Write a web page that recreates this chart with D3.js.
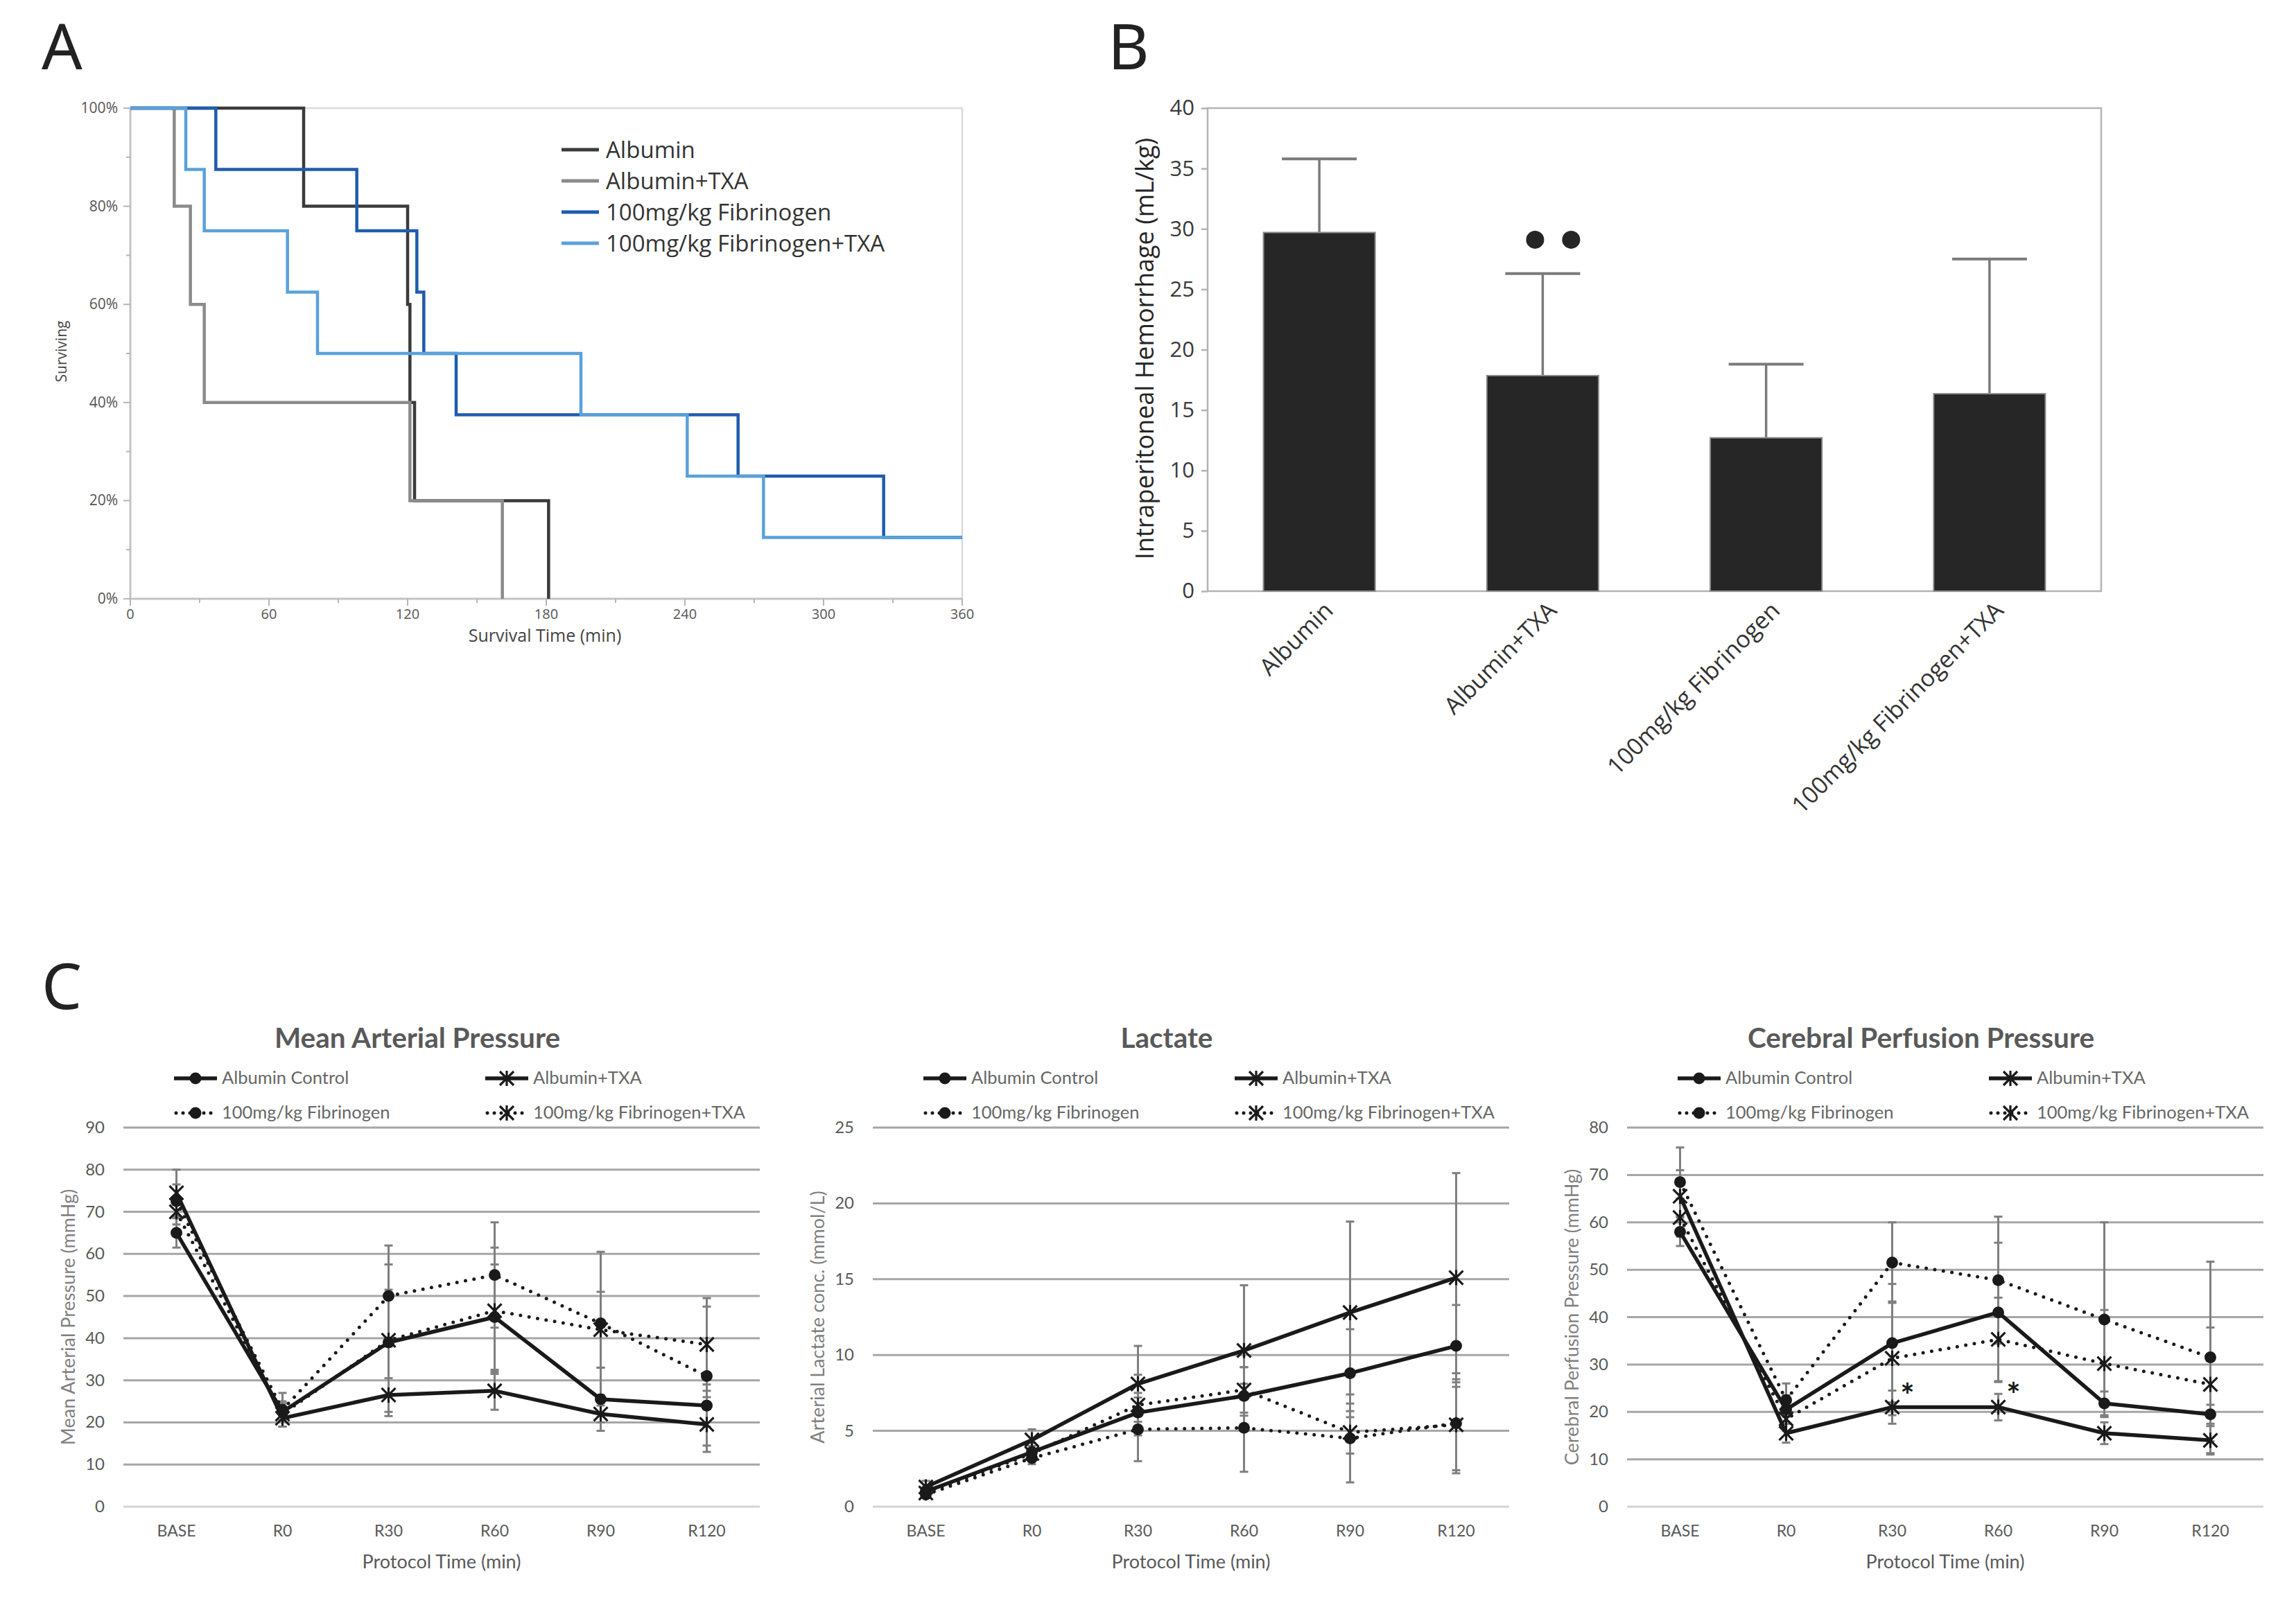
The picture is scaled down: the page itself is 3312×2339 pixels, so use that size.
<!DOCTYPE html>
<html>
<head>
<meta charset="utf-8">
<script src="https://cdn.jsdelivr.net/npm/d3@7"></script>
<style>
  body { margin: 0; background: #fff; }
  svg { display: block; }
</style>
</head>
<body>
<div id="fig"></div>
<script>
// ---------- data ----------
// panel A: Kaplan-Meier steps [minutes, fraction surviving]
var survGroups = ["Albumin", "Albumin+TXA", "100mg/kg Fibrinogen", "100mg/kg Fibrinogen+TXA"];
var survColors = ["#3b3b3b", "#8b8b8b", "#1f5cad", "#5aa1dc"];
var survAlbumin = [[0, 1], [75, 0.8], [120, 0.6], [121, 0.4], [123, 0.2], [181, 0]];
var survAlbuminTxa = [[0, 1], [19, 0.8], [26, 0.6], [32, 0.4], [121, 0.2], [161, 0]];
var survFib = [[0, 1], [37, 0.875], [98, 0.75], [124, 0.625], [127, 0.5], [141, 0.375], [263, 0.25], [326, 0.125], [360, 0.125]];
var survFibTxa = [[0, 1], [24, 0.875], [32, 0.75], [68, 0.625], [81, 0.5], [195, 0.375], [241, 0.25], [274, 0.125], [360, 0.125]];
var survXTicks = [0, 60, 120, 180, 240, 300, 360];
var survYTicks = [0, 0.2, 0.4, 0.6, 0.8, 1];

// panel B: hemorrhage volume, mean and upper SD
var bleedGroups = ["Albumin", "Albumin+TXA", "100mg/kg Fibrinogen", "100mg/kg Fibrinogen+TXA"];
var bleedMean = [29.7, 17.85, 12.7, 16.35];
var bleedSD = [6.1, 8.45, 6.1, 11.15];
var bleedTicks = [0, 5, 10, 15, 20, 25, 30, 35, 40];

// panel C: time course
var timePoints = ["BASE", "R0", "R30", "R60", "R90", "R120"];
var seriesNames = ["Albumin Control", "Albumin+TXA", "100mg/kg Fibrinogen", "100mg/kg Fibrinogen+TXA"];

var mapAlb = [65, 22.5, 39, 45, 25.5, 24];
var mapAlbSD = [3.5, 2, 12.5, 12.5, 7.5, 5];
var mapTxa = [74.5, 21, 26.5, 27.5, 22, 19.5];
var mapTxaSD = [5.5, 2, 4, 4.5, 2, 6.5];
var mapFib = [72.5, 23, 50, 55, 43.5, 31];
var mapFibSD = [4, 4, 12, 12.5, 17, 16.5];
var mapFibTxa = [70, 22, 39.5, 46.5, 42, 38.5];
var mapFibTxaSD = [3, 3, 18, 15, 9, 11];

var lacAlb = [1.0, 3.6, 6.2, 7.3, 8.8, 10.6];
var lacAlbSD = [0.3, 0.6, 1.3, 1.9, 2.9, 2.7];
var lacTxa = [1.3, 4.4, 8.1, 10.3, 12.8, 15.1];
var lacTxaSD = [0.4, 0.7, 2.5, 4.3, 6.0, 6.9];
var lacFib = [0.8, 3.2, 5.1, 5.2, 4.5, 5.5];
var lacFibSD = [0.2, 0.4, 2.1, 2.9, 2.9, 3.3];
var lacFibTxa = [0.9, 3.5, 6.7, 7.7, 4.9, 5.4];
var lacFibTxaSD = [0.3, 0.5, 2.0, 1.5, 1.4, 3.0];

var cppAlb = [58, 20.5, 34.5, 41, 21.8, 19.5];
var cppAlbSD = [3, 3, 12.5, 14.7, 2.5, 2];
var cppTxa = [65.5, 15.5, 21, 21, 15.5, 14];
var cppTxaSD = [5.5, 2, 3.5, 2.8, 2.3, 3];
var cppFib = [68.5, 22.5, 51.5, 47.8, 39.5, 31.5];
var cppFibSD = [7.3, 3.5, 8.5, 13.4, 20.5, 20.2];
var cppFibTxa = [61, 18.5, 31.3, 35.3, 30.2, 25.8];
var cppFibTxaSD = [4, 2.5, 12, 8.8, 11.3, 12];
var cppStars = [["R30", 24.4], ["R60", 24.6]];

// ---------- setup ----------
var W = 3312, H = 2339;
var svg = d3.select("#fig").append("svg").attr("width", W).attr("height", H);
svg.append("rect").attr("width", W).attr("height", H).attr("fill", "#fff");

var panelFont = "'Open Sans', 'Noto Sans', sans-serif";
var excelFont = "Lato, 'Open Sans', sans-serif";

function panelLetter(txt, x, y) {
    svg.append("text").attr("x", x).attr("y", y)
        .attr("font-family", "'Noto Sans', sans-serif").attr("font-size", 92)
        .attr("fill", "#222").text(txt);
}

// ---------- panel A ----------
function drawSurvival() {
    var left = 188, right = 1388, top = 156, bottom = 864;
    var x = d3.scaleLinear().domain([0, 360]).range([left, right]);
    var y = d3.scaleLinear().domain([0, 1]).range([bottom, top]);
    var g = svg.append("g");

    // frame (top/right faint, left/bottom darker)
    g.append("path").attr("d", "M" + left + "," + top + "H" + right + "V" + bottom)
        .attr("fill", "none").attr("stroke", "#dadada").attr("stroke-width", 2.5);
    g.append("path").attr("d", "M" + left + "," + top + "V" + bottom + "H" + right)
        .attr("fill", "none").attr("stroke", "#c4c4c4").attr("stroke-width", 3);

    // minor + major ticks
    d3.range(0, 361, 30).forEach(function (t) {
        var major = t % 60 == 0;
        g.append("line").attr("x1", x(t)).attr("x2", x(t)).attr("y1", bottom).attr("y2", bottom + (major ? 10 : 6))
            .attr("stroke", "#b5b5b5").attr("stroke-width", 2);
    });
    d3.range(0, 11).forEach(function (i) {
        var major = i % 2 == 0;
        g.append("line").attr("x1", left).attr("x2", left - (major ? 10 : 6)).attr("y1", y(i / 10)).attr("y2", y(i / 10))
            .attr("stroke", "#b5b5b5").attr("stroke-width", 2);
    });

    g.selectAll(".xt").data(survXTicks).enter().append("text")
        .attr("x", function (d) { return x(d); }).attr("y", 893)
        .attr("text-anchor", "middle").attr("font-family", panelFont).attr("font-size", 20)
        .attr("fill", "#555").text(function (d) { return d; });
    g.selectAll(".yt").data(survYTicks).enter().append("text")
        .attr("x", 170).attr("y", function (d) { return y(d) + 7; })
        .attr("text-anchor", "end").attr("font-family", panelFont).attr("font-size", 21)
        .attr("fill", "#555").text(function (d) { return Math.round(d * 100) + "%"; });

    g.append("text").attr("x", 786).attr("y", 926).attr("text-anchor", "middle")
        .attr("font-family", panelFont).attr("font-size", 25).attr("fill", "#444")
        .text("Survival Time (min)");
    g.append("text").attr("transform", "translate(96,507) rotate(-90)").attr("text-anchor", "middle")
        .attr("font-family", panelFont).attr("font-size", 21).attr("fill", "#444")
        .text("Surviving");

    var line = d3.line().x(function (d) { return x(d[0]); }).y(function (d) { return y(d[1]); })
        .curve(d3.curveStepAfter);
    [survAlbumin, survAlbuminTxa, survFib, survFibTxa].forEach(function (s, i) {
        g.append("path").attr("d", line(s)).attr("fill", "none")
            .attr("stroke", survColors[i]).attr("stroke-width", 4.5);
    });

    // legend
    survGroups.forEach(function (name, i) {
        var yy = 216 + i * 45;
        g.append("line").attr("x1", 810).attr("x2", 864).attr("y1", yy).attr("y2", yy)
            .attr("stroke", survColors[i]).attr("stroke-width", 5);
        g.append("text").attr("x", 874).attr("y", yy + 12)
            .attr("font-family", panelFont).attr("font-size", 33).attr("fill", "#333").text(name);
    });
}

// ---------- panel B ----------
function drawBars() {
    var left = 1742, right = 3031, top = 156, bottom = 853;
    var x = d3.scaleBand().domain(bleedGroups).range([left, right]).paddingInner(0.5).paddingOuter(0.25);
    var y = d3.scaleLinear().domain([0, 40]).range([bottom, top]);
    var g = svg.append("g");

    g.append("rect").attr("x", left).attr("y", top).attr("width", right - left).attr("height", bottom - top)
        .attr("fill", "none").attr("stroke", "#b3b3b3").attr("stroke-width", 2.5);

    var yAxis = d3.axisLeft(y).tickValues(bleedTicks).tickSize(9).tickPadding(10);
    var ya = g.append("g").attr("transform", "translate(" + left + ",0)").call(yAxis);
    ya.select(".domain").remove();
    ya.selectAll("line").attr("stroke", "#b3b3b3").attr("stroke-width", 2.5);
    ya.selectAll("text").attr("font-family", panelFont).attr("font-size", 31).attr("fill", "#3a3a3a");

    // error bars (upper only)
    bleedGroups.forEach(function (k, i) {
        var cx = x(k) + x.bandwidth() / 2;
        var yt = y(bleedMean[i] + bleedSD[i]);
        g.append("line").attr("x1", cx).attr("x2", cx).attr("y1", y(bleedMean[i])).attr("y2", yt)
            .attr("stroke", "#7a7a7a").attr("stroke-width", 3.5);
        g.append("line").attr("x1", cx - 54).attr("x2", cx + 54).attr("y1", yt).attr("y2", yt)
            .attr("stroke", "#7a7a7a").attr("stroke-width", 4);
    });

    g.selectAll(".bar").data(bleedGroups).enter().append("rect")
        .attr("x", function (d) { return x(d); })
        .attr("y", function (d, i) { return y(bleedMean[i]); })
        .attr("width", x.bandwidth())
        .attr("height", function (d, i) { return bottom - y(bleedMean[i]); })
        .attr("fill", "#262626").attr("stroke", "#8c8c8c").attr("stroke-width", 2);

    // significance marks over Albumin+TXA
    var cx1 = x(bleedGroups[1]) + x.bandwidth() / 2;
    [-26, 26].forEach(function (dx) {
        g.append("circle").attr("cx", cx1 + 15 + dx).attr("cy", y(29.1)).attr("r", 13).attr("fill", "#262626");
    });

    bleedGroups.forEach(function (k) {
        var cx = x(k) + x.bandwidth() / 2;
        g.append("text").attr("transform", "translate(" + (cx + 22) + "," + (bottom + 30) + ") rotate(-45)")
            .attr("text-anchor", "end").attr("font-family", panelFont).attr("font-size", 34)
            .attr("fill", "#333").text(k);
    });

    g.append("text").attr("transform", "translate(1664,503) rotate(-90)").attr("text-anchor", "middle")
        .attr("font-family", panelFont).attr("font-size", 36).attr("fill", "#262626")
        .text("Intraperitoneal Hemorrhage (mL/kg)");
}

// ---------- panel C ----------
function starPath(s) {
    return "M" + (-s) + "," + (-s) + "L" + s + "," + s + "M" + (-s) + "," + s + "L" + s + "," + (-s) +
        "M0," + (-s * 1.1) + "L0," + (s * 1.1);
}

function drawMarker(g, kind, cx, cy) {
    if (kind == "dot") {
        g.append("circle").attr("cx", cx).attr("cy", cy).attr("r", 8.5).attr("fill", "#1a1a1a");
    } else {
        g.append("path").attr("transform", "translate(" + cx + "," + cy + ")").attr("d", starPath(10))
            .attr("fill", "none").attr("stroke", "#1a1a1a").attr("stroke-width", 3.2);
    }
}

function drawTimeCourse(opt) {
    var left = opt.left, w = 918, top = 1627, bottom = 2174;
    var x = d3.scalePoint().domain(timePoints).range([left, left + w]).padding(0.5);
    var y = d3.scaleLinear().domain([0, opt.max]).range([bottom, top]);
    var g = svg.append("g");
    var styles = [
        { dash: null, marker: "dot" },
        { dash: null, marker: "star" },
        { dash: "0 12.5", marker: "dot" },
        { dash: "0 12.5", marker: "star" }
    ];

    // title
    g.append("text").attr("x", left + 424).attr("y", 1512).attr("text-anchor", "middle")
        .attr("font-family", excelFont).attr("font-weight", "bold").attr("font-size", 40.5)
        .attr("fill", "#595959").text(opt.title);

    // legend 2x2
    seriesNames.forEach(function (name, i) {
        var lx = left + (i % 2 == 0 ? 73 : 522);
        var ly = (i < 2 ? 1556 : 1606);
        var st = styles[i];
        var ln = g.append("line").attr("x1", lx).attr("x2", lx + 62).attr("y1", ly).attr("y2", ly)
            .attr("stroke", "#1a1a1a").attr("stroke-linecap", st.dash ? "round" : "butt")
            .attr("stroke-width", st.dash ? 5 : 5.5);
        if (st.dash) ln.attr("stroke-dasharray", "0 10").attr("stroke-dashoffset", -3);
        drawMarker(g, st.marker, lx + 31, ly);
        g.append("text").attr("x", lx + 69).attr("y", ly + 8)
            .attr("font-family", excelFont).attr("font-size", 25.5).attr("fill", "#666").text(name);
    });

    // gridlines + y labels
    var ticks = d3.range(0, opt.max + 0.001, opt.step);
    g.selectAll(".grid").data(ticks).enter().append("line")
        .attr("x1", left).attr("x2", left + w)
        .attr("y1", function (d) { return y(d); }).attr("y2", function (d) { return y(d); })
        .attr("stroke", function (d) { return d == 0 ? "#d4d4d4" : "#a6a6a6"; }).attr("stroke-width", 3);
    g.selectAll(".yl").data(ticks).enter().append("text")
        .attr("x", left - 27).attr("y", function (d) { return y(d) + 8; })
        .attr("text-anchor", "end").attr("font-family", excelFont).attr("font-size", 24)
        .attr("fill", "#595959").text(function (d) { return d; });
    g.selectAll(".xl").data(timePoints).enter().append("text")
        .attr("x", function (d) { return x(d); }).attr("y", 2217)
        .attr("text-anchor", "middle").attr("font-family", excelFont).attr("font-size", 23)
        .attr("fill", "#595959").text(function (d) { return d; });
    g.append("text").attr("x", left + w / 2).attr("y", 2263).attr("text-anchor", "middle")
        .attr("font-family", excelFont).attr("font-size", 27).attr("fill", "#595959")
        .text("Protocol Time (min)");
    g.append("text").attr("transform", "translate(" + (left - 70) + "," + ((top + bottom) / 2) + ") rotate(-90)")
        .attr("text-anchor", "middle").attr("font-family", excelFont).attr("font-size", 27)
        .attr("fill", "#7f7f7f").text(opt.ylabel);

    // error bars
    opt.series.forEach(function (s) {
        timePoints.forEach(function (t, j) {
            var cx = x(t), y1 = y(s.v[j] + s.sd[j]), y0 = y(s.v[j] - s.sd[j]);
            g.append("line").attr("x1", cx).attr("x2", cx).attr("y1", y0).attr("y2", y1)
                .attr("stroke", "#7f7f7f").attr("stroke-width", 3);
            [y0, y1].forEach(function (yy) {
                g.append("line").attr("x1", cx - 6).attr("x2", cx + 6).attr("y1", yy).attr("y2", yy)
                    .attr("stroke", "#7f7f7f").attr("stroke-width", 3);
            });
        });
    });

    // lines + markers
    var line = d3.line().x(function (d, j) { return x(timePoints[j]); }).y(function (d) { return y(d); });
    opt.series.forEach(function (s, i) {
        var p = g.append("path").attr("d", line(s.v)).attr("fill", "none").attr("stroke", "#1a1a1a");
        if (styles[i].dash) {
            p.attr("stroke-width", 5).attr("stroke-dasharray", styles[i].dash).attr("stroke-linecap", "round");
        } else {
            p.attr("stroke-width", 5.5).attr("stroke-linejoin", "round");
        }
    });
    opt.series.forEach(function (s, i) {
        s.v.forEach(function (v, j) { drawMarker(g, styles[i].marker, x(timePoints[j]), y(v)); });
    });

    (opt.stars || []).forEach(function (st) {
        g.append("text").attr("x", x(st[0]) + 22).attr("y", y(st[1]) + 24).attr("text-anchor", "middle")
            .attr("font-family", excelFont).attr("font-weight", "bold").attr("font-size", 48)
            .attr("fill", "#1a1a1a").text("*");
    });
}

panelLetter("A", 60, 100);
panelLetter("B", 1598, 100);
panelLetter("C", 60, 1456);
drawSurvival();
drawBars();
drawTimeCourse({
    left: 178, max: 90, step: 10, title: "Mean Arterial Pressure",
    ylabel: "Mean Arterial Pressure (mmHg)",
    series: [{ v: mapAlb, sd: mapAlbSD }, { v: mapTxa, sd: mapTxaSD }, { v: mapFib, sd: mapFibSD }, { v: mapFibTxa, sd: mapFibTxaSD }]
});
drawTimeCourse({
    left: 1259, max: 25, step: 5, title: "Lactate",
    ylabel: "Arterial Lactate conc. (mmol/L)",
    series: [{ v: lacAlb, sd: lacAlbSD }, { v: lacTxa, sd: lacTxaSD }, { v: lacFib, sd: lacFibSD }, { v: lacFibTxa, sd: lacFibTxaSD }]
});
drawTimeCourse({
    left: 2347, max: 80, step: 10, title: "Cerebral Perfusion Pressure",
    ylabel: "Cerebral Perfusion Pressure (mmHg)",
    series: [{ v: cppAlb, sd: cppAlbSD }, { v: cppTxa, sd: cppTxaSD }, { v: cppFib, sd: cppFibSD }, { v: cppFibTxa, sd: cppFibTxaSD }],
    stars: cppStars
});
</script>
</body>
</html>
